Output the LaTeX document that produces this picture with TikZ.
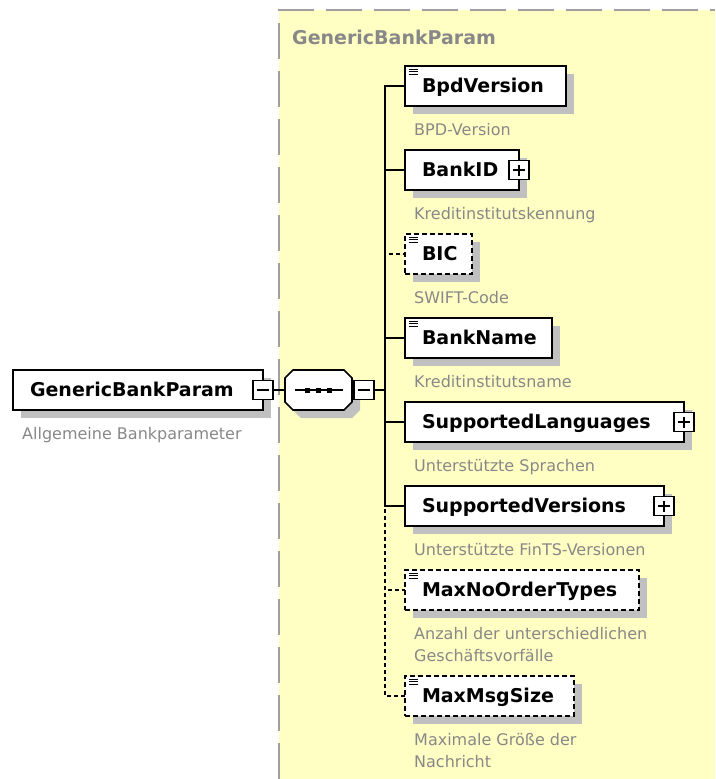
\documentclass[tikz,border=0pt]{standalone}
\usepackage{fontspec}
\setmainfont{DejaVu Sans}
\usepackage{tikz}
\usetikzlibrary{positioning, shadows}
\definecolor{xsdyellow}{RGB}{255,255,196}
\definecolor{xsdgray}{RGB}{136,136,136}
\definecolor{xsdframe}{RGB}{160,160,160}
\definecolor{xsdshadow}{RGB}{192,192,192}

\begin{document}
\begin{tikzpicture}[x=1pt, y=-1pt,
      elem/.style={rectangle, draw, line width=1.6pt, fill=white, inner xsep=17pt, inner ysep=0pt,
                   outer sep=0pt, minimum height=40pt, text height=16pt, text depth=4pt, align=left,
                   font=\fontsize{19}{22}\selectfont\bfseries,
                   drop shadow={shadow xshift=8pt, shadow yshift=-8pt, fill=xsdshadow, opacity=1}},
      optional/.style={elem, dash pattern=on 5pt off 3pt},
      simple/.style={path picture={
          \draw[solid, line width=.9pt] ([xshift=4pt, yshift=-3pt]path picture bounding box.north west) -- ++(9pt,0pt);
          \draw[solid, line width=.9pt] ([xshift=4pt, yshift=-5.5pt]path picture bounding box.north west) -- ++(9pt,0pt);
          \draw[solid, line width=.9pt] ([xshift=4pt, yshift=-8pt]path picture bounding box.north west) -- ++(9pt,0pt);}},
      desc/.style={inner sep=0pt, align=left, text=xsdgray, font=\fontsize{16}{22}\selectfont},
      expander/.style={rectangle, draw, line width=1.2pt, fill=white, minimum width=20pt,
                       minimum height=19pt, inner sep=0pt, outer sep=0pt},
      minus/.style={expander, path picture={
          \draw[line width=1.2pt] ([xshift=4pt]path picture bounding box.west) -- ([xshift=-4pt]path picture bounding box.east);}},
      plus/.style={expander, path picture={
          \draw[line width=1.2pt] ([xshift=4pt]path picture bounding box.west) -- ([xshift=-4pt]path picture bounding box.east);
          \draw[line width=1.2pt] ([yshift=-4pt]path picture bounding box.north) -- ([yshift=4pt]path picture bounding box.south);}},
      seqbox/.style={rectangle, minimum width=67pt, minimum height=40pt, inner sep=0pt, outer sep=0pt},
      octagon/.style={draw, line width=1.6pt, fill=white,
                      preaction={fill=xsdshadow, transform canvas={xshift=8pt, yshift=-8pt}}},
      conn/.style={line width=1.6pt},
      optconn/.style={conn, dash pattern=on 4pt off 3pt},
      frame/.style={xsdframe, line width=2pt, dash pattern=on 36pt off 12pt},
      ]
    \useasboundingbox (0,0) rectangle (715,779);

    % complex type area
    \fill[xsdyellow] (279,10) rectangle (715,779);
    \draw[frame] (279,779) -- (279,10) -- (715,10);
    \node[anchor=base west, inner sep=0pt, text=xsdgray, font=\fontsize{19}{22}\selectfont\bfseries]
      (typename) at (292,44) {GenericBankParam};

    % root element and sequence
    \node[elem, anchor=west, text width=216pt] (gbp) at (13,390) {GenericBankParam};
    \node[minus] (gbpx) at (gbp.east) {};
    \node[desc, below right=17pt and 9pt of gbp.south west] (gbpd) {Allgemeine Bankparameter};
    \node[seqbox, right=22pt of gbp] (seq) {};
    \draw[octagon] ([xshift=8pt]seq.north west) -- ([xshift=-8pt]seq.north east)
      -- ([yshift=-8pt]seq.north east) -- ([yshift=8pt]seq.south east)
      -- ([xshift=-8pt]seq.south east) -- ([xshift=8pt]seq.south west)
      -- ([yshift=8pt]seq.south west) -- ([yshift=-8pt]seq.north west) -- cycle;
    \draw[line width=1.2pt] ([xshift=-24pt]seq.center) -- ([xshift=24pt]seq.center);
    \fill ([xshift=-11pt]seq.center) +(-2.5pt,-2.5pt) rectangle +(2.5pt,2.5pt);
    \fill (seq.center) +(-2.5pt,-2.5pt) rectangle +(2.5pt,2.5pt);
    \fill ([xshift=11pt]seq.center) +(-2.5pt,-2.5pt) rectangle +(2.5pt,2.5pt);
    \node[minus, right=2pt of seq] (seqx) {};
    \coordinate[right=11pt of seqx] (spine);

    % children
    \node[elem, simple, anchor=west, text width=127pt] (bpd) at (405,86) {BpdVersion};
    \node[elem, text width=80pt, below=44pt of bpd.south west, anchor=north west] (bankid) {BankID};
    \node[optional, simple, text width=33pt, below=44pt of bankid.south west, anchor=north west] (bic) {BIC};
    \node[elem, simple, text width=113pt, below=44pt of bic.south west, anchor=north west] (bankname) {BankName};
    \node[elem, text width=245pt, below=44pt of bankname.south west, anchor=north west] (langs) {SupportedLanguages};
    \node[elem, text width=225pt, below=44pt of langs.south west, anchor=north west] (vers) {SupportedVersions};
    \node[optional, simple, text width=200pt, below=44pt of vers.south west, anchor=north west] (maxorder) {MaxNoOrderTypes};
    \node[optional, simple, text width=135pt, below=66pt of maxorder.south west, anchor=north west] (maxmsg) {MaxMsgSize};

    \node[plus] (bankidx) at (bankid.east) {};
    \node[plus] (langsx) at (langs.east) {};
    \node[plus] (versx) at (vers.east) {};

    % annotations
    \node[desc, below right=17pt and 9pt of bpd.south west] (bpdd) {BPD-Version};
    \node[desc, below right=17pt and 9pt of bankid.south west] (bankidd) {Kreditinstitutskennung};
    \node[desc, below right=17pt and 9pt of bic.south west] (bicd) {SWIFT-Code};
    \node[desc, below right=17pt and 9pt of bankname.south west] (banknamed) {Kreditinstitutsname};
    \node[desc, below right=17pt and 9pt of langs.south west] (langsd) {Unterstützte Sprachen};
    \node[desc, below right=17pt and 9pt of vers.south west] (versd) {Unterstützte FinTS-Versionen};
    \node[desc, below right=17pt and 9pt of maxorder.south west] (maxorderd) {Anzahl der unterschiedlichen\\Geschäftsvorfälle};
    \node[desc, below right=17pt and 9pt of maxmsg.south west] (maxmsgd) {Maximale Größe der\\Nachricht};

    % connectors
    \draw[conn] (gbpx) -- (seq);
    \draw[conn] (seqx) -- (spine);
    \draw[optconn] (spine) |- (bic);
    \draw[optconn] (spine) |- (maxorder);
    \draw[optconn] (spine) |- (maxmsg);
    \draw[conn] (spine) |- (bpd);
    \draw[conn] (spine) |- (bankid);
    \draw[conn] (spine) |- (bankname);
    \draw[conn] (spine) |- (langs);
    \draw[conn] (spine) |- (vers);
  \end{tikzpicture}
\end{document}
